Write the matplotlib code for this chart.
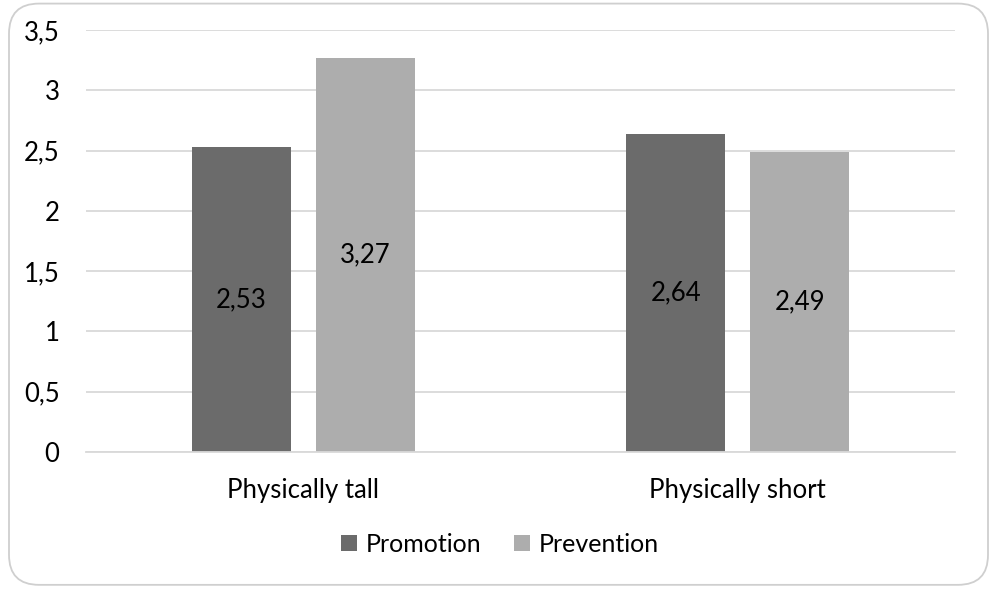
import matplotlib
matplotlib.use("Agg")
import matplotlib.pyplot as plt
from matplotlib.patches import FancyBboxPatch, Patch
import numpy as np

categories = ["Physically tall", "Physically short"]
series_names = ["Promotion", "Prevention"]
promotion = [2.53, 2.64]
prevention = [3.27, 2.49]
yticks = [0, 0.5, 1, 1.5, 2, 2.5, 3, 3.5]
colors = ["#6b6b6b", "#adadad"]

plt.rcParams['font.family'] = ['Lato', 'DejaVu Sans']
FS = 18.5

fig = plt.figure(figsize=(10, 5.98), dpi=100)
border = FancyBboxPatch((0.009, 0.022), 0.979, 0.972,
                        boxstyle="round,pad=0,rounding_size=0.03",
                        transform=fig.transFigure, facecolor="white",
                        edgecolor="#cfcfcf", linewidth=1.3,
                        mutation_aspect=1000/598, zorder=-10)
fig.patches.append(border)

ax = fig.add_axes([0.086, 0.2441, 0.869, 0.7057])
ax.set_facecolor("none")
x = np.arange(len(categories))
w = 0.228
off = 0.143
for vals, c, dx in [(promotion, colors[0], -off), (prevention, colors[1], off)]:
    bars = ax.bar(x + dx, vals, width=w, color=c, zorder=3)
    for b, v in zip(bars, vals):
        ax.text(b.get_x() + b.get_width() / 2, v / 2,
                f"{v:.2f}".replace(".", ","), ha="center", va="center",
                fontsize=FS, color="black", zorder=4)

ax.set_xlim(-0.5, 1.5)
ax.set_ylim(0, 3.5)
ax.set_yticks(yticks)
ax.set_yticklabels([f"{t:g}".replace(".", ",") for t in yticks], fontsize=FS)
ax.set_xticks(x)
ax.set_xticklabels(categories, fontsize=FS)
ax.tick_params(axis="both", length=0, colors="black")
ax.tick_params(axis="y", pad=19)
ax.tick_params(axis="x", pad=19)
ax.yaxis.grid(True, color="#d9d9d9", linewidth=1.3, zorder=0)
ax.set_axisbelow(True)
for s in ["top", "right", "left"]:
    ax.spines[s].set_visible(False)
ax.spines["bottom"].set_color("#d9d9d9")
ax.spines["bottom"].set_linewidth(1.3)
ax.spines["bottom"].set_zorder(5)

handles = [Patch(facecolor=colors[0]), Patch(facecolor=colors[1])]
fig.legend(handles, series_names, loc="center", bbox_to_anchor=(0.5, 0.09),
           ncol=2, frameon=False, fontsize=18, handlelength=0.65,
           handleheight=0.65, handletextpad=0.35, columnspacing=1.3)

fig.savefig("out.png", dpi=100)
